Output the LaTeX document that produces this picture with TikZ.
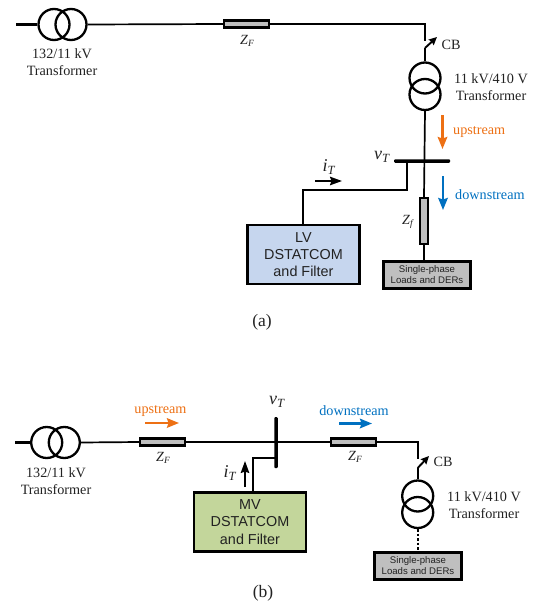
\documentclass[tikz,border=0pt]{standalone}
\usepackage{fontspec}
\usetikzlibrary{arrows.meta}
\setmainfont{Liberation Serif}
\setsansfont{Liberation Sans}
\definecolor{upcol}{HTML}{ED7014}
\definecolor{downcol}{HTML}{0070C0}
\definecolor{lvcol}{HTML}{C6D6EE}
\definecolor{mvcol}{HTML}{C3D69B}
\definecolor{loadcol}{HTML}{BFBFBF}
\definecolor{inkcol}{HTML}{222222}
\newcommand{\zlabel}[1]{{\fontsize{14}{15}\selectfont\textit{Z}\raisebox{-0.35ex}{\fontsize{9.5}{10}\selectfont\textit{#1}}}}
\newcommand{\vilabel}[2]{{\fontsize{18}{18}\selectfont\textit{#1}\raisebox{-0.35ex}{\fontsize{12.5}{12}\selectfont\textit{#2}}}}
\tikzset{
  wire/.style={line width=1.7pt},
  xfmr/.style={draw, circle, line width=2.3pt, minimum size=31pt, inner sep=0pt},
  zhoriz/.style={draw, line width=2.4pt, fill=loadcol, minimum width=45pt, minimum height=7pt, inner sep=0pt},
  zvert/.style={draw, line width=2.4pt, fill=loadcol, minimum width=7.5pt, minimum height=46pt, inner sep=0pt},
  busbar/.style={fill=black, rounded corners=1pt, inner sep=0pt},
  ctrlbox/.style={draw, line width=2.2pt, minimum width=112pt, minimum height=59pt, align=center, inner sep=0pt,
    font=\sffamily\fontsize{14.4}{17.2}\selectfont, text=inkcol},
  loadbox/.style={draw, line width=2.2pt, fill=loadcol, minimum width=87pt, minimum height=27pt, align=center, inner sep=0pt,
    font=\sffamily\fontsize{9.6}{11}\selectfont, text=inkcol},
  lbl/.style={align=center, inner sep=0pt, text=inkcol, font=\fontsize{14.2}{17}\selectfont},
  caplbl/.style={inner sep=0pt, text=inkcol, font=\fontsize{17.5}{20}\selectfont},
  flow/.style={line width=2.2pt, -{Stealth[length=12pt, width=9.5pt, inset=1.5pt]}},
  iflow/.style={line width=1.9pt, -{Stealth[length=12pt, width=8.5pt, inset=1.5pt]}},
  cbflow/.style={line width=1.9pt, -{Stealth[length=8pt, width=7.5pt, inset=1pt]}}
}
\begin{document}
\begin{tikzpicture}[x=1pt, y=-1pt]
  \useasboundingbox (0,0) rectangle (542,605);

  %Part (a)
  \coordinate (as) at (16,24.5);
  \node[xfmr] at (54,24.5) (at1) {};
  \node[xfmr] at (71,24.5) (at2) {};
  \node[zhoriz] at (246.5,24) (azf) {};
  \coordinate (acorner) at (425,24);
  \coordinate (acbtop) at (425,41);
  \coordinate (acbbot) at (425,48);
  \coordinate (acbtip) at (437,37);
  \node[xfmr] at (425,78) (at3) {};
  \node[xfmr] at (425,94.5) (at4) {};
  \node[busbar, minimum width=56pt, minimum height=3.5pt] at (422,161) (abus) {};
  \coordinate (atap) at (407,161);
  \node[zvert] at (424,221) (azl) {};
  \node[ctrlbox, fill=lvcol] at (303.5,254.5) (alv) {LV\\DSTATCOM\\and Filter};
  \node[loadbox] at (427,275) (aload) {Single-phase\\Loads and DERs};
  \coordinate (aturn) at (303,190);

  \draw[wire, line width=2.2pt] (as)to(at1.west);
  \draw[wire] (at2.east)to(azf.west);
  \draw[wire] (azf.east)to(acorner)to(acbtop);
  \draw[wire] (acbbot)to(at3.north);
  \draw[cbflow] (acbbot)to(acbtip);
  \draw[wire] (at4.south)to(azl.north);
  \draw[wire] (azl.south)to(azl.south |- aload.north);
  \draw[wire] (atap)|-(aturn)to(alv.north -| aturn);

  %Flow arrows (a)
  \draw[flow, upcol] (442.5,115)to(442.5,149);
  \draw[flow, downcol] (443,176)to(443,210);
  \draw[iflow] (315,181)to(342,181);

  %Labels (a)
  \node[lbl] at (62,62) (at1l) {132/11 kV\\Transformer};
  \node[lbl] at (247,41) (azfl) {\zlabel{F}};
  \node[lbl] at (451,44.5) (acbl) {CB};
  \node[lbl] at (491,87.5) (at3l) {11 kV/410 V\\Transformer};
  \node[lbl, text=upcol, anchor=west] at (453,132) (aupl) {upstream};
  \node[lbl, text=downcol, anchor=west] at (455,195) (adownl) {downstream};
  \node[lbl] at (382,157) (avt) {\vilabel{v}{T}};
  \node[lbl] at (329,167) (ait) {\vilabel{i}{T}};
  \node[lbl] at (408,222) (azll) {\zlabel{f}};
  \node[caplbl] at (262,322) (acap) {(a)};

  %Part (b)
  \coordinate (bs) at (15,442.5);
  \node[xfmr] at (46.7,442.5) (bt1) {};
  \node[xfmr] at (64.3,442.5) (bt2) {};
  \node[zhoriz] at (162.5,442) (bzf1) {};
  \node[busbar, minimum width=3.5pt, minimum height=51pt] at (276,442.5) (bbus) {};
  \node[zhoriz] at (353.5,442) (bzf2) {};
  \coordinate (bcorner) at (417.7,442);
  \coordinate (bcbtop) at (417.7,459);
  \coordinate (bcbbot) at (417.7,468);
  \coordinate (bcbtip) at (429,456);
  \node[xfmr] at (417.7,496) (bt3) {};
  \node[xfmr] at (417.7,512.5) (bt4) {};
  \node[ctrlbox, fill=mvcol] at (250,522) (bmv) {MV\\DSTATCOM\\and Filter};
  \node[loadbox] at (418,566) (bload) {Single-phase\\Loads and DERs};
  \coordinate (btap) at (276,458);
  \coordinate (bturn) at (253,458);

  \draw[wire, line width=2.2pt] (bs)to(bt1.west);
  \draw[wire] (bt2.east)to(bzf1.west);
  \draw[wire] (bzf1.east)to(bzf2.west);
  \draw[wire] (bzf2.east)to(bcorner)to(bcbtop);
  \draw[wire] (bcbbot)to(bt3.north);
  \draw[cbflow] (bcbbot)to(bcbtip);
  \draw[wire, dash pattern=on 2.5pt off 2pt] (bt4.south)to(bload.north -| bt4.south);
  \draw[wire] (btap)to(bturn)to(bmv.north -| bturn);

  %Flow arrows (b)
  \draw[flow, upcol] (145,423)to(179,423);
  \draw[flow, downcol] (339,423.5)to(372,423.5);
  \draw[iflow] (245,487)to(245,461);

  %Labels (b)
  \node[lbl] at (56,481) (bt1l) {132/11 kV\\Transformer};
  \node[lbl] at (163,458) (bzf1l) {\zlabel{F}};
  \node[lbl] at (355,457) (bzf2l) {\zlabel{F}};
  \node[lbl] at (443,462) (bcbl) {CB};
  \node[lbl] at (484,505.5) (bt3l) {11 kV/410 V\\Transformer};
  \node[lbl, text=upcol] at (160.5,411) (bupl) {upstream};
  \node[lbl, text=downcol] at (354,411) (bdownl) {downstream};
  \node[lbl] at (277,402) (bvt) {\vilabel{v}{T}};
  \node[lbl] at (230,473) (bit) {\vilabel{i}{T}};
  \node[caplbl] at (263,593) (bcap) {(b)};
\end{tikzpicture}
\end{document}
